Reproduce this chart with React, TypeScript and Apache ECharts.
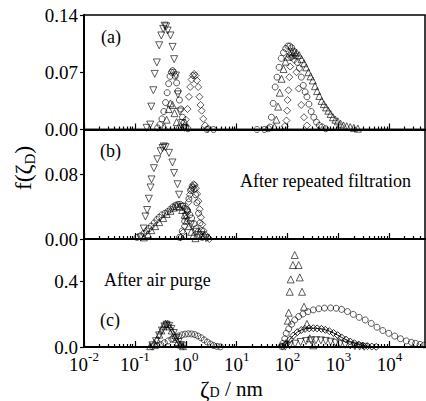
import React, { useEffect, useRef } from "react";
import * as echarts from "echarts";

// ---------- axis data ----------
const X_MIN = 0.01;
const X_MAX = 50000;
const X_MAJOR = [0.01, 0.1, 1, 10, 100, 1000, 10000];
const X_MAJOR_EXP = ["-2", "-1", "0", "1", "2", "3", "4"];
const Y_MAX = [0.14, 0.136, 0.655];
const Y_TICKS_A = [0, 0.07, 0.14];
const Y_TICKS_B = [0, 0.08];
const Y_TICKS_C = [0, 0.4];
const Y_DECIMALS = [2, 2, 1];

// ---------- panel (a) ----------
const A_DOWN = [
  [0.17, 0.002], [0.2, 0.006], [0.21, 0.028], [0.23, 0.048], [0.245, 0.068], [0.27, 0.082],
  [0.3, 0.103], [0.33, 0.115], [0.36, 0.123], [0.385, 0.127], [0.41, 0.126], [0.44, 0.121],
  [0.5, 0.115], [0.55, 0.101], [0.59, 0.086], [0.64, 0.066], [0.7, 0.043], [0.77, 0.022],
  [0.85, 0.008], [0.95, 0.002],
];
const A_CIRC = [
  [0.28, 0.002], [0.31, 0.006], [0.34, 0.013], [0.37, 0.022], [0.4, 0.033], [0.43, 0.045],
  [0.46, 0.056], [0.49, 0.065], [0.52, 0.07], [0.55, 0.072], [0.58, 0.07], [0.62, 0.065],
  [0.66, 0.057], [0.7, 0.047], [0.75, 0.036], [0.8, 0.025], [0.86, 0.015], [0.93, 0.008],
  [1.0, 0.003], [1.1, 0.001], [2.6, 0], [3.5, 0], [25, 0], [35, 0],
  [42, 0.001], [45, 0.003], [48, 0.015], [52, 0.032], [57, 0.052], [62, 0.064], [68, 0.076],
  [75, 0.087], [83, 0.094], [92, 0.099], [101, 0.102], [110, 0.102], [120, 0.1], [131, 0.096],
  [143, 0.09], [156, 0.082], [170, 0.075], [186, 0.064], [203, 0.054], [221, 0.046], [240, 0.04],
  [262, 0.031], [290, 0.022], [327, 0.015], [370, 0.009], [420, 0.005], [478, 0.003], [560, 0.001],
];
const A_DIAM = [
  [0.9, 0.003], [1.0, 0.012], [1.08, 0.025], [1.15, 0.04], [1.22, 0.052], [1.3, 0.061],
  [1.38, 0.066], [1.46, 0.068], [1.55, 0.066], [1.65, 0.06], [1.75, 0.052], [1.85, 0.04],
  [1.95, 0.03], [2.05, 0.023], [2.2, 0.013], [2.4, 0.005], [2.7, 0.001],
  [88, 0.004], [95, 0.011], [98, 0.023], [100, 0.036], [104, 0.048], [108, 0.064], [112, 0.077],
  [118, 0.088], [126, 0.09], [135, 0.085], [150, 0.07], [165, 0.05], [185, 0.03], [210, 0.015],
  [240, 0.005],
];
const A_UP = [
  [0.38, 0.003], [0.42, 0.012], [0.46, 0.025], [0.5, 0.032], [0.55, 0.03], [0.6, 0.02],
  [0.66, 0.009], [0.72, 0.003],
  [55, 0.003], [60, 0.012], [65, 0.028], [70, 0.045], [76, 0.062], [83, 0.074], [91, 0.083],
  [100, 0.089], [110, 0.093], [122, 0.095], [135, 0.095], [150, 0.094], [168, 0.091], [188, 0.086],
  [210, 0.081], [232, 0.076], [256, 0.07], [283, 0.065], [312, 0.06], [345, 0.053], [380, 0.047],
  [420, 0.041], [465, 0.035], [515, 0.031], [570, 0.027], [630, 0.023], [700, 0.019], [780, 0.015],
  [870, 0.012], [970, 0.01], [1100, 0.007], [1250, 0.005], [1450, 0.004], [1700, 0.003],
  [2000, 0.002], [2400, 0.001],
];

// ---------- panel (b) ----------
const B_DOWN = [
  [0.13, 0.002], [0.149, 0.013], [0.161, 0.028], [0.174, 0.036], [0.188, 0.05], [0.203, 0.064],
  [0.212, 0.074], [0.236, 0.088], [0.275, 0.099], [0.32, 0.109], [0.35, 0.113], [0.37, 0.115],
  [0.4, 0.114], [0.467, 0.107], [0.546, 0.095], [0.587, 0.082], [0.686, 0.068], [0.737, 0.055],
  [0.861, 0.04], [1.0, 0.028], [1.256, 0.018], [1.58, 0.009], [1.98, 0.005], [2.5, 0.001],
];
const B_CIRC = [
  [0.11, 0.002], [0.13, 0.004], [0.15, 0.007], [0.17, 0.01], [0.19, 0.013], [0.21, 0.016],
  [0.24, 0.02], [0.27, 0.024], [0.3, 0.027], [0.34, 0.03], [0.39, 0.032], [0.44, 0.034],
  [0.5, 0.037], [0.56, 0.04], [0.63, 0.042], [0.7, 0.043], [0.78, 0.043], [0.87, 0.041],
  [0.97, 0.038], [1.08, 0.034], [1.2, 0.03], [1.3, 0.026], [1.45, 0.019], [1.6, 0.013],
  [1.75, 0.009], [1.9, 0.005], [2.1, 0.002],
];
const B_UP = [
  [0.15, 0.002], [0.18, 0.006], [0.21, 0.011], [0.25, 0.016], [0.3, 0.021], [0.36, 0.026],
  [0.42, 0.031], [0.5, 0.035], [0.58, 0.039], [0.66, 0.041], [0.75, 0.04], [0.85, 0.036],
  [0.95, 0.03], [1.05, 0.023], [1.15, 0.016], [1.28, 0.009], [1.4, 0.004], [1.55, 0.001],
];
const B_DIAM = [
  [0.8, 0.002], [0.88, 0.008], [0.95, 0.016], [1.02, 0.026], [1.08, 0.036], [1.14, 0.046],
  [1.2, 0.055], [1.27, 0.062], [1.34, 0.066], [1.42, 0.068], [1.5, 0.067], [1.58, 0.063],
  [1.67, 0.056], [1.77, 0.047], [1.87, 0.037], [1.98, 0.027], [2.1, 0.018], [2.25, 0.01],
  [2.45, 0.005], [2.7, 0.002], [2.9, 0],
];
const B_CIRC2 = [
  [0.75, 0.002], [0.85, 0.01], [0.95, 0.022], [1.05, 0.037], [1.15, 0.05], [1.25, 0.06],
  [1.35, 0.064], [1.45, 0.062], [1.55, 0.055], [1.65, 0.045], [1.78, 0.032], [1.9, 0.02],
  [2.05, 0.01], [2.25, 0.004],
];

// ---------- panel (c) ----------
const C_UP = [
  [0.2, 0.005], [0.24, 0.025], [0.27, 0.045], [0.3, 0.075], [0.33, 0.1], [0.36, 0.125],
  [0.4, 0.142], [0.44, 0.14], [0.48, 0.125], [0.53, 0.1], [0.58, 0.075], [0.64, 0.05],
  [0.7, 0.03], [0.78, 0.015], [0.88, 0.005],
  [92, 0.02], [101, 0.16], [105, 0.208], [110, 0.335], [115, 0.41], [127, 0.497], [138, 0.558],
  [165, 0.497], [173, 0.422], [192, 0.335], [210, 0.244], [240, 0.14], [273, 0.053], [320, 0.01],
];
const C_DOWN = [
  [0.22, 0.01], [0.26, 0.035], [0.3, 0.07], [0.34, 0.1], [0.38, 0.125], [0.42, 0.135],
  [0.47, 0.128], [0.52, 0.11], [0.58, 0.085], [0.65, 0.055], [0.72, 0.03], [0.8, 0.012],
  [0.9, 0.004],
  [90, 0.002], [110, 0.01], [140, 0.02], [180, 0.03], [230, 0.036], [290, 0.04], [360, 0.041],
  [450, 0.04], [560, 0.037], [700, 0.032], [870, 0.026], [1080, 0.02], [1350, 0.014],
  [1700, 0.009], [2100, 0.005], [2600, 0.003], [3200, 0.001],
];
const C_CIRC = [
  [0.22, 0.002], [0.27, 0.008], [0.32, 0.016], [0.38, 0.026], [0.45, 0.037], [0.53, 0.048],
  [0.62, 0.058], [0.72, 0.067], [0.84, 0.074], [0.97, 0.078], [1.12, 0.08], [1.3, 0.079],
  [1.5, 0.075], [1.73, 0.067], [2.0, 0.056], [2.3, 0.043], [2.65, 0.03], [3.05, 0.018],
  [3.5, 0.009], [4.1, 0.004], [4.8, 0.001],
  [75, 0.004], [81, 0.022], [88, 0.05], [94, 0.083], [105, 0.11], [120, 0.138], [138, 0.164],
  [165, 0.185], [200, 0.2], [250, 0.214], [320, 0.225], [410, 0.232], [530, 0.236], [700, 0.237],
  [900, 0.235], [1150, 0.228], [1500, 0.215], [1950, 0.198], [2550, 0.18], [3350, 0.164],
  [4400, 0.143], [5700, 0.12], [7400, 0.1], [9700, 0.083], [12700, 0.066], [16500, 0.05],
  [21500, 0.037], [27000, 0.028], [32700, 0.022], [40000, 0.016], [48000, 0.012],
];
const C_DIAM = [
  [80, 0.003], [95, 0.02], [110, 0.045], [130, 0.07], [155, 0.09], [185, 0.103], [220, 0.11],
  [265, 0.113], [320, 0.114], [380, 0.113], [460, 0.11], [550, 0.104], [660, 0.096], [800, 0.085],
  [960, 0.072], [1150, 0.058], [1400, 0.045], [1700, 0.033], [2050, 0.023], [2500, 0.015],
  [3000, 0.009], [3700, 0.005], [4500, 0.003], [5500, 0.001],
];

// ---------- layout ----------
const SERIF = "'Liberation Serif', 'Times New Roman', serif";
const GRIDS = [
  { top: 15, height: 114.5 },
  { top: 129.5, height: 109.5 },
  { top: 239, height: 108 },
];
const MARK: Record<string, any> = {
  down: { symbol: "triangle", symbolRotate: 180, symbolSize: 7 },
  up: { symbol: "triangle", symbolRotate: 0, symbolSize: 7 },
  circ: { symbol: "circle", symbolRotate: 0, symbolSize: 6 },
  diam: { symbol: "diamond", symbolRotate: 0, symbolSize: 7 },
};

function minorTicks(): number[] {
  const out: number[] = [];
  for (let d = -2; d <= 4; d++) {
    for (let k = 2; k <= 9; k++) {
      const v = Number((k * Math.pow(10, d)).toPrecision(6));
      if (v < X_MAX) out.push(v);
    }
  }
  return out;
}

function scatter(data: number[][], mark: string, grid: number, withLine = false) {
  const m = MARK[mark];
  return {
    type: withLine ? "line" : "scatter",
    xAxisIndex: grid * 2,
    yAxisIndex: grid,
    data,
    symbol: m.symbol,
    symbolRotate: m.symbolRotate,
    symbolSize: m.symbolSize,
    showAllSymbol: true,
    smooth: withLine ? 0.3 : undefined,
    lineStyle: withLine ? { color: "#000", width: 1 } : undefined,
    itemStyle: { color: "rgba(255,255,255,0)", borderColor: "#000", borderWidth: 0.8 },
    silent: true,
    z: 3,
  };
}

export default function App() {
  const ref = useRef<HTMLDivElement>(null);
  useEffect(() => {
    if (!ref.current) return;
    const chart = echarts.init(ref.current, null, { renderer: "svg" });
    const minors = minorTicks();
    const yTicks = [Y_TICKS_A, Y_TICKS_B, Y_TICKS_C];

    const xAxis: any[] = [];
    const yAxis: any[] = [];
    GRIDS.forEach((g, i) => {
      xAxis.push({
        type: "log",
        gridIndex: i,
        min: X_MIN,
        max: X_MAX,
        logBase: 10,
        position: "bottom",
        axisLine: { show: true, lineStyle: { color: "#000", width: 2 } },
        axisTick: { show: true, inside: true, length: 6, customValues: X_MAJOR, lineStyle: { color: "#000", width: 1.2 } },
        axisLabel: {
          show: i === 2,
          customValues: X_MAJOR,
          margin: 3,
          color: "#000",
          formatter: (v: number) => {
            const idx = X_MAJOR.findIndex((m) => Math.abs(Math.log10(m) - Math.log10(v)) < 1e-6);
            return idx >= 0 ? `{b|10}{s|${X_MAJOR_EXP[idx]}}` : "";
          },
          rich: {
            b: { fontFamily: SERIF, fontSize: 19, color: "#000", padding: [5, 0, 0, 0] },
            s: { fontFamily: SERIF, fontSize: 13, color: "#000", verticalAlign: "top" },
          },
        },
        splitLine: { show: false },
        minorTick: { show: false },
      });
      // minor ticks axis: placed at the top then shifted down to the bottom edge
      xAxis.push({
        type: "log",
        gridIndex: i,
        min: X_MIN,
        max: X_MAX,
        logBase: 10,
        position: "top",
        offset: -g.height,
        axisLine: { show: false },
        axisTick: { show: true, inside: false, length: 3, customValues: minors, lineStyle: { color: "#000", width: 1.2 } },
        axisLabel: { show: false },
        splitLine: { show: false },
      });
      yAxis.push({
        type: "value",
        gridIndex: i,
        min: 0,
        max: Y_MAX[i],
        axisLine: { show: true, lineStyle: { color: "#000", width: 2 } },
        axisTick: { show: true, inside: false, length: 4, customValues: yTicks[i], lineStyle: { color: "#000", width: 1.2 } },
        axisLabel: {
          customValues: yTicks[i],
          color: "#000",
          fontFamily: SERIF,
          fontSize: 19,
          margin: 6,
          formatter: (v: number) => v.toFixed(Y_DECIMALS[i]),
        },
        splitLine: { show: false },
      });
    });

    const series = [
      scatter(A_DOWN, "down", 0),
      scatter(A_CIRC, "circ", 0),
      scatter(A_DIAM, "diam", 0),
      scatter(A_UP, "up", 0),
      scatter(B_DOWN, "down", 1),
      scatter(B_CIRC, "circ", 1),
      scatter(B_UP, "up", 1),
      scatter(B_DIAM, "diam", 1),
      scatter(B_CIRC2, "circ", 1),
      scatter(C_UP, "up", 2),
      scatter(C_DOWN, "down", 2),
      scatter(C_CIRC, "circ", 2),
      scatter(C_DIAM, "diam", 2, true),
    ];

    const txt = (text: string, left: number, top: number) => ({
      type: "text",
      left,
      top,
      style: { text, fontFamily: SERIF, fontSize: 18, fill: "#000" },
      z: 10,
    });

    chart.setOption({
      animation: false,
      backgroundColor: "#fff",
      grid: GRIDS.map((g) => ({
        left: 84,
        right: 1,
        top: g.top,
        height: g.height,
        show: true,
        borderColor: "#000",
        borderWidth: 1.5,
        backgroundColor: "rgba(0,0,0,0)",
      })),
      xAxis,
      yAxis,
      series,
      graphic: [
        txt("(a)", 101, 28),
        txt("(b)", 100, 142),
        txt("(c)", 100, 311),
        txt("After repeated filtration", 240, 172),
        txt("After air purge", 104, 271),
        {
          type: "text",
          x: 24,
          y: 168,
          rotation: Math.PI / 2,
          style: {
            text: "{f|f(ζ}{d|D}{f|)}",
            align: "center",
            verticalAlign: "middle",
            rich: {
              f: { fontFamily: SERIF, fontSize: 24, fill: "#000", color: "#000", verticalAlign: "top", lineHeight: 26 },
              d: { fontFamily: SERIF, fontSize: 15, fill: "#000", color: "#000", verticalAlign: "bottom", lineHeight: 15, padding: [14, 0, 0, 0] },
            },
          },
          z: 10,
        },
        {
          type: "text",
          left: 200,
          top: 376,
          style: {
            text: "{z|ζ}{d|D}{n| / nm}",
            rich: {
              z: { fontFamily: SERIF, fontSize: 23, fill: "#000", color: "#000", verticalAlign: "top", lineHeight: 21 },
              n: { fontFamily: SERIF, fontSize: 21, fill: "#000", color: "#000", verticalAlign: "top", lineHeight: 21 },
              d: { fontFamily: SERIF, fontSize: 14, fill: "#000", color: "#000", verticalAlign: "bottom", lineHeight: 14, padding: [9, 0, 0, 0] },
            },
          },
          z: 10,
        },
      ],
    });
    return () => chart.dispose();
  }, []);

  return (
    <div
      ref={ref}
      style={{ position: "fixed", left: 0, top: 0, width: 426, height: 401, background: "#fff" }}
    />
  );
}
